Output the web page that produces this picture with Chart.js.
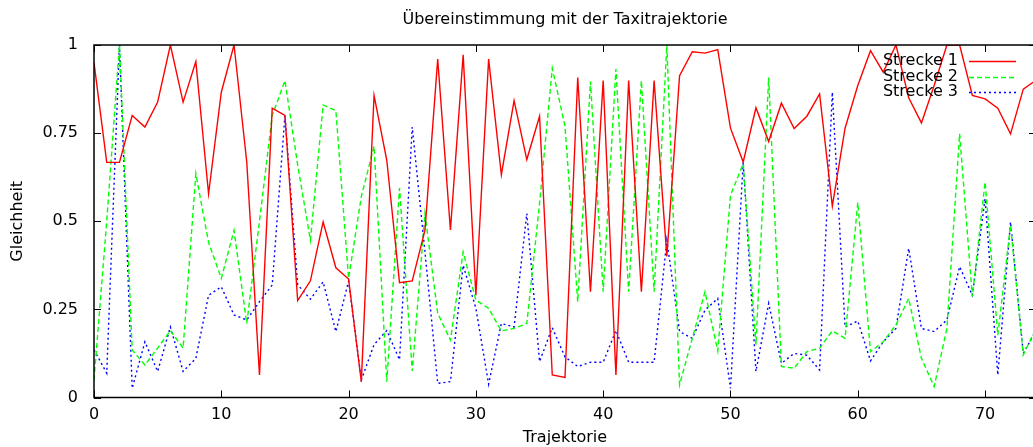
<!DOCTYPE html>
<html>
<head>
<meta charset="utf-8">
<script src="https://cdn.jsdelivr.net/npm/chart.js@4.4.1/dist/chart.umd.min.js"></script>
<style>
  html, body { margin: 0; padding: 0; overflow: hidden; background: #fff; }
  canvas { display: block; }
</style>
</head>
<body>
<canvas id="taxiChart" width="1050" height="447"></canvas>
<script>
// Trajektorie index (x axis)
const trajektorie = [0, 1, 2, 3, 4, 5, 6, 7, 8, 9, 10, 11, 12, 13, 14, 15, 16, 17, 18, 19,
    20, 21, 22, 23, 24, 25, 26, 27, 28, 29, 30, 31, 32, 33, 34, 35, 36, 37, 38, 39,
    40, 41, 42, 43, 44, 45, 46, 47, 48, 49, 50, 51, 52, 53, 54, 55, 56, 57, 58, 59,
    60, 61, 62, 63, 64, 65, 66, 67, 68, 69, 70, 71, 72, 73, 74];

const strecke1 = [0.95, 0.667, 0.667, 0.80, 0.767, 0.838, 1.0, 0.838, 0.953, 0.578,
    0.866, 1.0, 0.668, 0.064, 0.821, 0.80, 0.275, 0.331, 0.498, 0.368,
    0.336, 0.045, 0.857, 0.673, 0.326, 0.331, 0.475, 0.96, 0.475, 0.972,
    0.29, 0.96, 0.632, 0.842, 0.675, 0.798, 0.064, 0.057, 0.908, 0.30,
    0.899, 0.064, 0.899, 0.30, 0.899, 0.40, 0.913, 0.981, 0.977, 0.987,
    0.764, 0.668, 0.822, 0.726, 0.835, 0.763, 0.798, 0.861, 0.543, 0.764,
    0.885, 0.984, 0.923, 1.0, 0.85, 0.779, 0.885, 1.0, 1.0, 0.857,
    0.847, 0.821, 0.748, 0.875, 0.9];

const strecke2 = [0.05, 0.5, 1.0, 0.135, 0.092, 0.14, 0.19, 0.14, 0.635, 0.44,
    0.338, 0.474, 0.21, 0.5, 0.80, 0.899, 0.66, 0.446, 0.83, 0.814,
    0.338, 0.57, 0.713, 0.045, 0.594, 0.075, 0.522, 0.239, 0.163, 0.413,
    0.276, 0.253, 0.189, 0.196, 0.21, 0.55, 0.934, 0.77, 0.272, 0.896,
    0.30, 0.932, 0.30, 0.899, 0.30, 1.0, 0.036, 0.168, 0.30, 0.132,
    0.574, 0.663, 0.15, 0.908, 0.088, 0.083, 0.13, 0.14, 0.189, 0.168,
    0.553, 0.13, 0.158, 0.206, 0.281, 0.111, 0.031, 0.196, 0.748, 0.286,
    0.611, 0.177, 0.489, 0.121, 0.196];

const strecke3 = [0.135, 0.069, 1.0, 0.026, 0.158, 0.074, 0.20, 0.074, 0.111, 0.29,
    0.314, 0.234, 0.22, 0.272, 0.319, 0.80, 0.32, 0.279, 0.328, 0.187,
    0.33, 0.05, 0.15, 0.19, 0.107, 0.767, 0.413, 0.04, 0.045, 0.375,
    0.253, 0.038, 0.21, 0.20, 0.522, 0.102, 0.198, 0.115, 0.088, 0.10,
    0.10, 0.19, 0.10, 0.10, 0.10, 0.446, 0.187, 0.168, 0.248, 0.281,
    0.026, 0.668, 0.074, 0.267, 0.097, 0.125, 0.12, 0.078, 0.866, 0.20,
    0.217, 0.104, 0.158, 0.196, 0.423, 0.196, 0.187, 0.22, 0.371, 0.29,
    0.564, 0.064, 0.498, 0.125, 0.19];

const yTicks = [0, 0.25, 0.5, 0.75, 1];
const yTickLabels = ['0', '0.25', '0.5', '0.75', '1'];

const FONT = '"DejaVu Sans", Verdana, sans-serif';

// gnuplot style frame, inward ticks, title and legend
const gnuplotFrame = {
    id: 'gnuplotFrame',
    afterDatasetsDraw(chart) {
        const { ctx, chartArea: a, scales } = chart;
        const tick = 7;
        ctx.save();
        ctx.strokeStyle = '#000';
        ctx.lineWidth = 1.5;
        ctx.strokeRect(a.left, a.top, a.right - a.left, a.bottom - a.top);

        ctx.lineWidth = 1;
        ctx.beginPath();
        scales.x.ticks.forEach(t => {
            const x = Math.round(scales.x.getPixelForValue(t.value)) + 0.5;
            ctx.moveTo(x, a.bottom); ctx.lineTo(x, a.bottom - tick);
            ctx.moveTo(x, a.top); ctx.lineTo(x, a.top + tick);
        });
        scales.y.ticks.forEach(t => {
            const y = Math.round(scales.y.getPixelForValue(t.value)) + 0.5;
            ctx.moveTo(a.left, y); ctx.lineTo(a.left + tick, y);
            ctx.moveTo(a.right, y); ctx.lineTo(a.right - tick, y);
        });
        ctx.stroke();

        // title
        ctx.fillStyle = '#000';
        ctx.font = '16px ' + FONT;
        ctx.textAlign = 'center';
        ctx.textBaseline = 'middle';
        ctx.fillText('Übereinstimmung mit der Taxitrajektorie', (a.left + a.right) / 2, 20);

        // legend, top right inside the plot
        ctx.textAlign = 'right';
        chart.data.datasets.forEach((ds, i) => {
            const y = a.top + 16 + i * 15.5;
            ctx.fillStyle = '#000';
            ctx.fillText(ds.label, a.right - 78, y);
            ctx.strokeStyle = ds.borderColor;
            ctx.lineWidth = ds.borderWidth;
            ctx.setLineDash(ds.borderDash || []);
            ctx.beginPath();
            ctx.moveTo(a.right - 67, Math.round(y) + 0.5);
            ctx.lineTo(a.right - 20, Math.round(y) + 0.5);
            ctx.stroke();
            ctx.setLineDash([]);
        });
        ctx.restore();
    }
};

function createTaxiChart() {
    const ctx = document.getElementById('taxiChart').getContext('2d');

    new Chart(ctx, {
        type: 'line',
        data: {
            labels: trajektorie,
            datasets: [{
                label: 'Strecke 1',
                data: strecke1,
                borderColor: '#ff0000',
                borderWidth: 1.4,
                pointRadius: 0,
                tension: 0
            },
            {
                label: 'Strecke 2',
                data: strecke2,
                borderColor: '#00ff00',
                borderWidth: 1.4,
                borderDash: [5, 3],
                pointRadius: 0,
                tension: 0
            },
            {
                label: 'Strecke 3',
                data: strecke3,
                borderColor: '#0000ff',
                borderWidth: 1.4,
                borderDash: [2, 3],
                pointRadius: 0,
                tension: 0
            }]
        },
        options: {
            responsive: false,
            animation: false,
            devicePixelRatio: 1,
            layout: {
                padding: { top: 45, right: 14, left: 0, bottom: 0 }
            },
            plugins: {
                legend: { display: false },
                tooltip: { enabled: false }
            },
            scales: {
                x: {
                    type: 'linear',
                    min: 0,
                    max: 74,
                    grid: { display: false },
                    border: { display: false },
                    ticks: {
                        stepSize: 10,
                        includeBounds: false,
                        padding: 0,
                        color: '#000',
                        font: { family: FONT, size: 16 }
                    },
                    title: {
                        display: true,
                        text: 'Trajektorie',
                        color: '#000',
                        padding: { top: 0, bottom: 0 },
                        font: { family: FONT, size: 16 }
                    },
                    afterFit(scale) { scale.height = 49.5; }
                },
                y: {
                    min: 0,
                    max: 1,
                    grid: { display: false },
                    border: { display: false },
                    afterBuildTicks(scale) {
                        scale.ticks = yTicks.map(v => ({ value: v }));
                    },
                    ticks: {
                        padding: 8,
                        color: '#000',
                        font: { family: FONT, size: 16 },
                        callback: (v) => yTickLabels[yTicks.indexOf(v)]
                    },
                    title: {
                        display: true,
                        text: 'Gleichheit',
                        color: '#000',
                        padding: { top: 8, bottom: 0 },
                        font: { family: FONT, size: 16 }
                    },
                    afterFit(scale) { scale.width = 94; }
                }
            }
        },
        plugins: [gnuplotFrame]
    });
}

document.addEventListener('DOMContentLoaded', () => {
    createTaxiChart();
});
</script>
</body>
</html>
